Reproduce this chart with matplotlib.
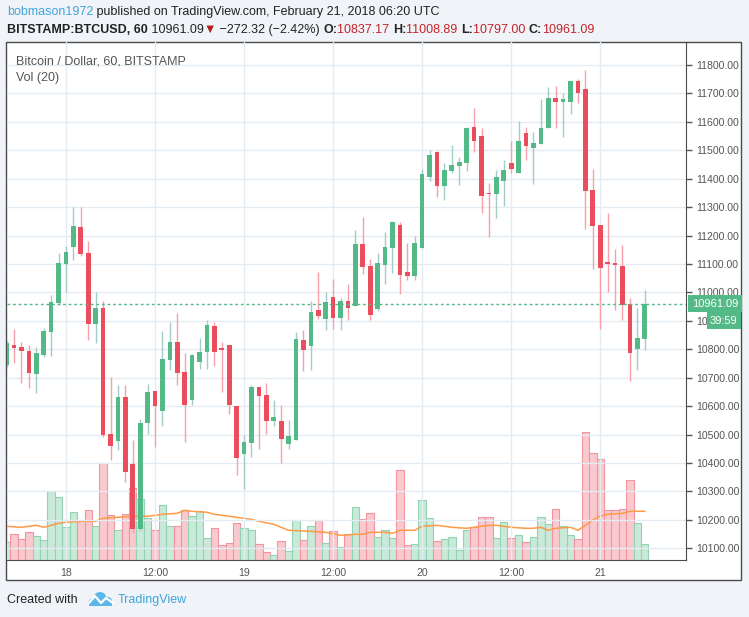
import matplotlib
matplotlib.use('Agg')
import matplotlib.pyplot as plt
import matplotlib.dates as mdates
from matplotlib.patches import Rectangle, Circle
from matplotlib.lines import Line2D
import numpy as np
import pandas as pd

plt.rcParams['font.family'] = ['Liberation Sans', 'DejaVu Sans']

# hourly BITSTAMP:BTCUSD candles, 17 Feb 16:00 -> 21 Feb 06:00 UTC
times = pd.date_range('2018-02-17 16:00', '2018-02-21 06:00', freq='h')

opens = [10745, 10815, 10808, 10794, 10714, 10781, 10862, 10963,
         11101, 11160, 11230, 11139, 10889, 10945, 10502, 10478, 10632, 10397, 10168, 10541,
         10653, 10583, 10763, 10826, 10720, 10622, 10755, 10791, 10882, 10805, 10815, 10601,
         10432, 10471, 10668, 10639, 10548, 10548, 10467, 10481, 10833, 10812, 10938, 10907,
         10984, 10910, 10970, 10952, 11170, 11093, 10942, 11097, 11156, 11237, 11072, 11058,
         11156, 11406, 11494, 11374, 11427, 11445, 11455, 11582, 11550, 11350, 11346, 11392,
         11455, 11420, 11561, 11508, 11522, 11578, 11684, 11670, 11670, 11744, 11716, 11360,
         11237, 11107, 11104, 11093, 10959, 10801, 10837.17]
highs = [10833, 10871, 10826, 10815, 10808, 10875, 10991, 11139,
         11163, 11301, 11301, 11181, 11002, 10970, 10703, 10675, 10675, 10481, 10555, 10678,
         10655, 10864, 10896, 10928, 10787, 10782, 10840, 10903, 10896, 10826, 10815, 10601,
         10499, 10675, 10668, 10682, 10622, 10604, 10551, 10861, 10868, 10970, 11072, 11002,
         11047, 10981, 11030, 11220, 11265, 11118, 11139, 11213, 11250, 11248, 11174, 11199,
         11434, 11501, 11497, 11455, 11519, 11476, 11582, 11649, 11578, 11385, 11431, 11466,
         11533, 11603, 11582, 11564, 11680, 11723, 11726, 11702, 11744, 11751, 11782, 11434,
         11237, 11279, 11153, 11167, 10981, 10945, 11008.89]
lows = [10734, 10753, 10683, 10665, 10648, 10774, 10776, 10955,
        11002, 11114, 11128, 10833, 10822, 10490, 10411, 10446, 10333, 10154, 10160, 10502,
        10457, 10530, 10727, 10675, 10474, 10604, 10731, 10731, 10741, 10650, 10573, 10358,
        10309, 10421, 10450, 10502, 10530, 10400, 10450, 10481, 10724, 10727, 10907, 10868,
        10871, 10868, 10903, 10952, 11065, 10903, 10935, 11030, 11069, 10995, 11044, 11044,
        11156, 11392, 11336, 11325, 11420, 11378, 11427, 11494, 11279, 11195, 11262, 11304,
        11420, 11420, 11466, 11381, 11522, 11578, 11578, 11547, 11628, 11666, 11223, 11083,
        10871, 11002, 10938, 10903, 10689, 10727, 10797.00]
closes = [10822, 10806, 10795, 10718, 10787, 10864, 10968, 11104,
          11142, 11234, 11135, 10889, 10945, 10499, 10460, 10632, 10369, 10168, 10541, 10650,
          10601, 10766, 10826, 10717, 10604, 10780, 10791, 10886, 10791, 10798, 10604, 10418,
          10474, 10668, 10636, 10548, 10562, 10485, 10495, 10836, 10798, 10931, 10917, 10966,
          10910, 10970, 10945, 11170, 11090, 10921, 11104, 11160, 11248, 11061, 11058, 11174,
          11417, 11483, 11374, 11431, 11448, 11459, 11578, 11533, 11339, 11346, 11406, 11431,
          11434, 11533, 11515, 11526, 11578, 11684, 11670, 11680, 11744, 11702, 11357, 11234,
          11086, 11100, 11097, 10956, 10787, 10840, 10961.09]
volumes = [177, 257, 207, 277, 237, 197, 687, 627,
           327, 477, 397, 497, 337, 967, 447, 300, 457, 717, 607, 417,
           297, 547, 337, 337, 497, 437, 487, 217, 317, 147, 167, 367,
           317, 297, 157, 77, 47, 187, 87, 397, 197, 337, 397, 167,
           287, 127, 257, 527, 407, 467, 227, 297, 217, 897, 147, 157,
           597, 417, 187, 207, 227, 97, 297, 327, 427, 427, 217, 377,
           217, 247, 177, 227, 427, 357, 507, 337, 247, 207, 1277, 1067,
           1007, 497, 497, 507, 797, 367, 157]

# Vol (20) moving average (hours after 18 Feb 00:00)
ma_hours = [-8, -6, -4, -3, -1, 0, 2, 4, 5, 7, 9, 11, 13, 15, 16, 17, 19, 20, 22, 24,
            25, 26, 28, 30, 33, 35, 37, 39, 40, 41, 43, 44, 45, 47, 48, 50, 52, 54, 56,
            57, 58, 60, 62, 63, 64, 65, 66, 68, 69, 70, 71, 72, 73, 75, 76, 78]
ma_vals = [337, 327, 347, 327, 367, 377, 387, 387, 417, 427, 437, 437, 457, 467, 497, 487,
           477, 457, 437, 417, 407, 387, 357, 297, 287, 277, 247, 257, 257, 277, 277, 267,
           297, 297, 337, 347, 327, 317, 337, 347, 347, 327, 317, 317, 327, 297, 317, 327,
           297, 347, 400, 440, 457, 467, 487, 487]

tick_times = ['2018-02-18 00:00', '2018-02-18 12:00', '2018-02-19 00:00', '2018-02-19 12:00',
              '2018-02-20 00:00', '2018-02-20 12:00', '2018-02-21 00:00']
tick_labels = ['18', '12:00', '19', '12:00', '20', '12:00', '21']
price_ticks = list(range(10100, 11900, 100))

UP, DOWN = '#53b987', '#eb4d5c'
UP_WICK, DOWN_WICK = '#a3cbc7', '#f5a0aa'
UP_VOL, DOWN_VOL = '#c9e9d9', '#fac9ce'
UP_VOL_EDGE, DOWN_VOL_EDGE = '#93d3b3', '#f0959f'
TXT = '#555555'

W, H = 749, 617


def fx(px):
    return px / W


def fy(py):
    return 1 - py / H


o = np.array(opens)
c = np.array(closes)
x = mdates.date2num(times)
hour = 1 / 24
up = c >= o

fig = plt.figure(figsize=(W / 100, H / 100), dpi=100, facecolor='#f0f3f7')
fig.patches.append(Rectangle((fx(6), fy(580)), fx(741) - fx(6), fy(42) - fy(580),
                             transform=fig.transFigure, facecolor='white',
                             edgecolor='#4b4b4b', lw=1, zorder=-5))

rect = [fx(7), fy(560), fx(686) - fx(7), fy(42) - fy(560)]
axv = fig.add_axes(rect)
axp = fig.add_axes(rect, sharex=axv)
axv.axis('off')
axp.set_facecolor('none')

# volume + MA
axv.bar(x, volumes, width=hour, color=np.where(up, UP_VOL, DOWN_VOL),
        edgecolor=np.where(up, UP_VOL_EDGE, DOWN_VOL_EDGE), lw=0.8)
ma_x = mdates.date2num(pd.Timestamp('2018-02-18')) + np.array(ma_hours) * hour
axv.plot(ma_x, ma_vals, color='#ff9a45', lw=1.1)
axv.set_ylim(0, 5180)

# candles
axp.vlines(x, lows, highs, colors=np.where(up, UP_WICK, DOWN_WICK), lw=1, zorder=2)
axp.bar(x, np.maximum(np.abs(c - o), 4), bottom=np.minimum(o, c), width=0.63 * hour,
        color=np.where(up, UP, DOWN), zorder=3)

last = closes[-1]
axp.axhline(last, color=UP, lw=1, ls=(0, (2, 2)), zorder=4)

start = mdates.date2num(pd.Timestamp('2018-02-18'))
axp.set_xlim(start - 7.95 * hour, start + 83.56 * hour)
axp.set_ylim(10059, 11881)

axp.set_xticks(mdates.date2num(pd.to_datetime(tick_times)))
axp.set_xticklabels(tick_labels)
axp.set_yticks(price_ticks)
axp.set_yticklabels([f'{p:.2f}' for p in price_ticks])
axp.yaxis.tick_right()
axp.tick_params(axis='both', colors=TXT, labelsize=7.6, length=4, width=1)
axp.tick_params(axis='x', length=0, pad=6)
axp.tick_params(axis='y', pad=3)
axp.grid(True, color='#e3ecf2', lw=1)
axp.set_axisbelow(True)
for s in ['top', 'left']:
    axp.spines[s].set_visible(False)
for s in ['right', 'bottom']:
    axp.spines[s].set_color('#4b4b4b')

# last price labels on the scale
axp.annotate(f'{last:.2f}', xy=(1, last), xycoords=('axes fraction', 'data'),
             xytext=(6, 0), textcoords='offset pixels', color='white', fontsize=8,
             va='center', ha='left', annotation_clip=False, zorder=10,
             bbox=dict(boxstyle='square,pad=0.35', fc=UP, ec='none'))
axp.annotate('39:59', xy=(1, last), xycoords=('axes fraction', 'data'),
             xytext=(24, -17), textcoords='offset pixels', color='white', fontsize=8,
             va='center', ha='left', annotation_clip=False, zorder=10,
             bbox=dict(boxstyle='square,pad=0.3', fc=UP, ec='none'))

axp.text(9 / (686 - 7), 1 - 19 / 518, 'Bitcoin / Dollar, 60, BITSTAMP', transform=axp.transAxes,
         fontsize=9, color=TXT, va='center')
axp.text(9 / (686 - 7), 1 - 36 / 518, 'Vol (20)', transform=axp.transAxes,
         fontsize=9, color=TXT, va='center')

# header lines
renderer = fig.canvas.get_renderer()


def row(pieces, px, py, size=9):
    for s, color, weight in pieces:
        t = fig.text(fx(px), fy(py), s, color=color, fontweight=weight, fontsize=size,
                     va='center', ha='left')
        px += t.get_window_extent(renderer=renderer).width


RED = '#c3242c'
DARK = '#222222'
row([('bobmason1972', '#3ea6db', 'normal'),
     (' published on TradingView.com, February 21, 2018 06:20 UTC', DARK, 'normal')], 7, 12)
row([('BITSTAMP:BTCUSD, 60', DARK, 'bold'), (' 10961.09', DARK, 'normal'),
     ('▼', '#b71c1c', 'normal'), (' −272.32 (−2.42%) ', DARK, 'normal'),
     ('O:', DARK, 'bold'), ('10837.17 ', RED, 'normal'),
     ('H:', DARK, 'bold'), ('11008.89 ', RED, 'normal'),
     ('L:', DARK, 'bold'), ('10797.00 ', RED, 'normal'),
     ('C:', DARK, 'bold'), ('10961.09', RED, 'normal')], 7, 30)

# footer
fig.text(fx(7), fy(600), 'Created with', fontsize=9, color=DARK, va='center')
fig.text(fx(118), fy(600), 'TradingView', fontsize=9, color='#3ea6db', va='center')
for cx, cy, r in [(93, 602, 4.5), (100, 597, 6), (107, 601, 5)]:
    fig.patches.append(Circle((fx(cx), fy(cy)), r / W, transform=fig.transFigure,
                              facecolor='#5cb6ea', edgecolor='none'))
fig.patches.append(Rectangle((fx(89), fy(606)), fx(112) - fx(89), fy(601) - fy(606),
                             transform=fig.transFigure, facecolor='#5cb6ea', edgecolor='none'))
fig.lines.append(Line2D([fx(88), fx(95), fx(101), fx(106), fx(113)],
                        [fy(604), fy(596), fy(603), fy(598), fy(603)],
                        transform=fig.transFigure, color='white', lw=1.6))

fig.savefig('out.png', dpi=100, facecolor=fig.get_facecolor())
